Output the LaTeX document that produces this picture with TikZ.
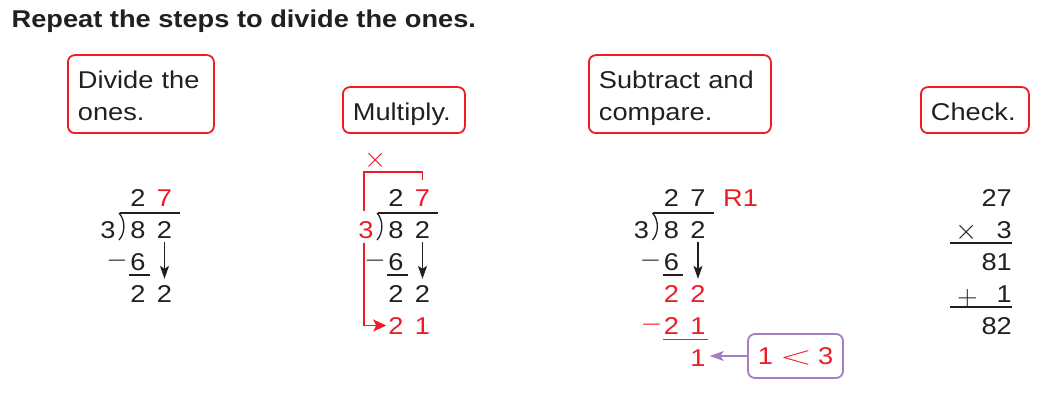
\documentclass[tikz,border=0pt]{standalone}
\usepackage{fontspec}
\usepackage{graphicx}
\usepackage{tikz}
\usetikzlibrary{arrows.meta}
\setmainfont{Liberation Sans}[FakeStretch=1.12]
\definecolor{bookred}{RGB}{237,28,36}
\definecolor{hintpurple}{RGB}{164,126,190}
\definecolor{inkblack}{RGB}{35,31,32}
\newcommand{\opsign}[1]{\scalebox{1.15}{$#1$}}
\newcommand{\longminus}{\scalebox{1.1}[1.1]{$-$}}

\begin{document}
\begin{tikzpicture}[
		x=1pt, y=-1pt,
		every node/.style={inner sep=0pt, text=inkblack},
		num/.style={anchor=base, font=\fontsize{24.3}{29}\selectfont},
		sym/.style={font=\fontsize{24}{29}\selectfont},
		stepbox/.style={draw=bookred, line width=1.8pt, rounded corners=7pt, anchor=south west,
			inner xsep=10pt, align=left, minimum height=46pt, text height=20pt, text depth=0pt,
			font=\fontsize{24.3}{32}\selectfont},
		barline/.style={line width=1.3pt, draw=inkblack},
		bringdown/.style={-{Stealth[length=13pt, width=9pt, inset=3pt]}, line width=1.2pt, draw=inkblack},
		redline/.style={line width=1.3pt, draw=bookred},
		redarrow/.style={-{Stealth[length=13pt, width=12pt, inset=3pt]}, line width=1.3pt, draw=bookred, shorten >=2pt},
		hintbox/.style={draw=hintpurple, line width=1.8pt, rounded corners=7pt, minimum width=95pt,
			minimum height=44pt, text=bookred, font=\fontsize{24.3}{29}\selectfont},
		hintarrow/.style={-{Stealth[length=14pt, width=10pt, inset=3.5pt]}, line width=1.1pt, draw=hintpurple, shorten >=4pt}
	]
		\useasboundingbox (0,0) rectangle (1047,401);

		\node[anchor=base west, font=\bfseries\fontsize{24.3}{29}\selectfont] (title) at (11.5,27.3) {Repeat the steps to divide the ones.};

		\node[stepbox, text width=126pt, text depth=32pt, minimum height=78pt] (divide) at (67,134) {Divide the\\ones.};
		\node[stepbox, text width=102pt] (multiply) at (342,134) {Multiply.};
		\node[stepbox, text width=162pt, text depth=32pt, minimum height=78pt] (subtract) at (588,134) {Subtract and\\compare.};
		\node[stepbox, text width=88pt] (check) at (920,134) {Check.};

		\foreach \d/\x/\qc/\dc/\rc in {a/138/bookred/inkblack/inkblack, b/396/bookred/bookred/inkblack, c/671.5/inkblack/inkblack/bookred}{
			\node[num] (\d-qt) at (\x,206) {2};
			\node[num, text=\qc] (\d-qo) at (\x+26.5,206) {7};
			\node[num, text=\dc] (\d-dv) at (\x-30,238) {3};
			\node[num] (\d-dt) at (\x,238) {8};
			\node[num] (\d-do) at (\x+26.5,238) {2};
			\node[sym] (\d-mn) at (\x-21,260.5) {\longminus};
			\node[num] (\d-st) at (\x,270) {6};
			\node[num, text=\rc] (\d-rt) at (\x,302) {2};
			\node[num, text=\rc] (\d-ro) at (\x+26.5,302) {2};
			\draw[barline] (\x-18.5,213) -- (\x+42,213);
			\draw[barline] (\x-19,213) .. controls (\x-12.5,220) and (\x-12.5,233) .. (\x-19,240);
			\draw[barline] ([xshift=-1pt,yshift=-4.5pt]\d-st.south west) -- ([xshift=4pt,yshift=-4.5pt]\d-st.south east);
			\draw[bringdown] ([yshift=-4pt]\d-do.south) -- ([yshift=6pt]\d-ro.north);
		}

		\node[sym, text=bookred] (b-times) at (375.5,160) {\opsign{\times}};
		\draw[redline] ([xshift=-2pt,yshift=10pt]b-dv.north) |- ([yshift=17pt]b-qo.north) -- ([yshift=9pt]b-qo.north);
		\node[num, text=bookred] (b-pt) at (396,334) {2};
		\node[num, text=bookred] (b-po) at (422.5,334) {1};
		\draw[redarrow] ([xshift=-2pt,yshift=-5pt]b-dv.south) |- (b-pt.west);

		\node[num, text=bookred, anchor=base west] (c-rem) at (723,206) {R1};
		\node[sym, text=bookred] (c-mn2) at (651.5,324.5) {\longminus};
		\node[num, text=bookred] (c-pt) at (671.5,334) {2};
		\node[num, text=bookred] (c-po) at (698,334) {1};
		\draw[redline] ([xshift=-1pt,yshift=-5pt]c-pt.south west) -- ([xshift=2pt,yshift=-5pt]c-po.south east);
		\node[num, text=bookred] (c-left) at (698,366) {1};
		\node[hintbox] (compare) at (795.5,356) {1\hspace{7pt}\scalebox{1.7}[1.05]{$<$}\hspace{6pt}3};
		\draw[hintarrow] (compare.west) -- (compare.west -| c-left.east);

		\node[num, anchor=base east] (k-top) at (1012,206) {27};
		\node[sym] (k-times) at (967,232) {\opsign{\times}};
		\node[num, anchor=base east] (k-mult) at (1012,238) {3};
		\draw[barline] (950,243) -- (1012,243);
		\node[num, anchor=base east] (k-prod) at (1012,270) {81};
		\node[sym] (k-plus) at (967.5,298) {\opsign{+}};
		\node[num, anchor=base east] (k-rem) at (1012,302) {1};
		\draw[barline] (950,307) -- (1012,307);
		\node[num, anchor=base east] (k-sum) at (1012,334) {82};
	\end{tikzpicture}
\end{document}
